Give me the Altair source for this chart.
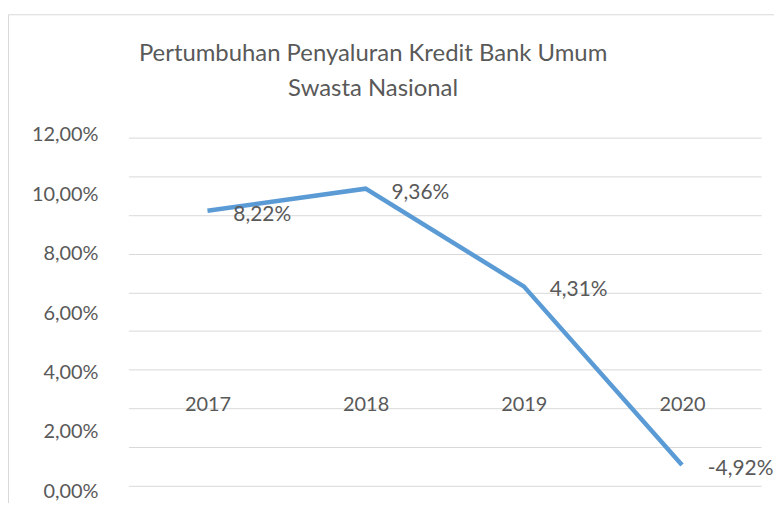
import altair as alt
import pandas as pd

# --- data ---
years = ["2017", "2018", "2019", "2020"]
growth = [8.22, 9.36, 4.31, -4.92]
point_labels = ["8,22%", "9,36%", "4,31%", "-4,92%"]

grid_values = [-6, -4, -2, 0, 2, 4, 6, 8, 10, 12]

axis_label_values = [0, 2, 4, 6, 8, 10, 12]
axis_label_texts = ["0,00%", "2,00%", "4,00%", "6,00%", "8,00%", "10,00%", "12,00%"]

title_lines = ["Pertumbuhan Penyaluran Kredit Bank Umum", "Swasta Nasional"]

FONT = "Lato"
TXT = "#595959"
LINE = "#5B9BD5"
GRID = "#D9D9D9"

df = pd.DataFrame({"year": years, "growth": growth, "label": point_labels})
ydf = pd.DataFrame({"v": axis_label_values, "t": axis_label_texts})
one = pd.DataFrame({"k": [0]})

main_scale = alt.Scale(domain=[-6, 12], nice=False, zero=False)

frame = alt.Chart(one).mark_rect(filled=False, color=GRID, strokeWidth=1).encode(
    x=alt.value(-120.5), x2=alt.value(700), y=alt.value(-123.5), y2=alt.value(420)
)

line = alt.Chart(df).mark_line(color=LINE, strokeWidth=4.5, strokeCap="butt", strokeJoin="miter").encode(
    x=alt.X(
        "year:O",
        sort=years,
        axis=alt.Axis(
            title=None, offset=-82, labelPadding=0, labelBaseline="middle",
            ticks=False, domain=False, grid=False, labelAngle=0,
            labelFont=FONT, labelFontSize=20, labelColor=TXT,
        ),
    ),
    y=alt.Y(
        "growth:Q",
        scale=main_scale,
        axis=alt.Axis(
            title=None, values=grid_values, grid=True, gridColor=GRID, gridWidth=1,
            labels=False, ticks=False, domain=False,
        ),
    ),
)

labels = alt.Chart(df).mark_text(
    align="left", baseline="middle", dx=26, dy=4, font=FONT, fontSize=21, color=TXT
).encode(
    x=alt.X("year:O", sort=years),
    y=alt.Y("growth:Q", scale=main_scale, axis=None),
    text="label:N",
)

ylabels = alt.Chart(ydf).mark_text(
    align="right", baseline="middle", font=FONT, fontSize=20, color=TXT
).encode(
    x=alt.value(-30),
    y=alt.Y("v:Q", scale=alt.Scale(domain=[0.201, 11.926], nice=False, zero=False), axis=None),
    text="t:N",
)

title = alt.Chart(one).mark_text(
    text=title_lines, align="center", baseline="middle", lineHeight=35,
    font=FONT, fontSize=24, color=TXT
).encode(x=alt.value(246), y=alt.value(-84))

chart = (
    alt.layer(frame, line, labels, ylabels, title)
    .resolve_scale(y="independent")
    .properties(
        width=636,
        height=350,
        padding={"left": 121, "top": 129, "right": 13, "bottom": 16},
        autosize=alt.AutoSizeParams(type="none"),
        background="white",
    )
    .configure_view(stroke=None)
)

chart.save("out.html", embed_options={"renderer": "svg", "actions": False})
